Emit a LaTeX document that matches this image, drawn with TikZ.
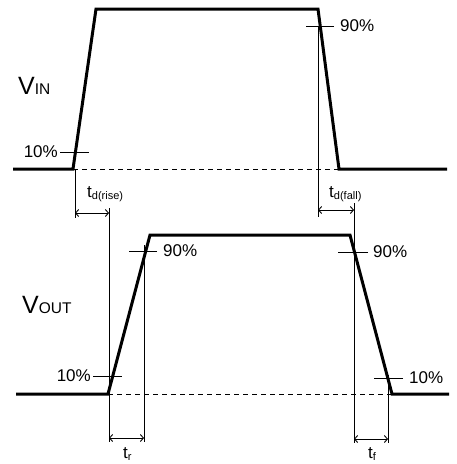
\documentclass[tikz,border=0pt]{standalone}
\usepackage{fontspec}
\setmainfont{Liberation Sans}
\usetikzlibrary{arrows.meta}

\newcommand{\subfont}{\fontsize{11}{11}\selectfont}

\begin{document}
\begin{tikzpicture}[x=1pt, y=-1pt, >={Straight Barb[length=3pt,width=7pt]},
        wave/.style = {line width=3pt, line join=miter},
        guide/.style = {line width=0.9pt},
        level/.style = {line width=1pt, dash pattern=on 5pt off 4pt},
        pct/.style = {inner sep=0pt, font=\fontsize{17}{17}\selectfont},
        tlab/.style = {inner sep=0pt, anchor=base west, font=\fontsize{17}{17}\selectfont},
        sig/.style = {inner sep=0pt, anchor=base west, font=\fontsize{25}{25}\selectfont},
        ]
        \useasboundingbox (0,0) rectangle (456,464);

        % input pulse
        \coordinate (inL) at (13,169);
        \coordinate (inR) at (73,169);
        \coordinate (inHi) at (96,9);
        \coordinate (inHf) at (318,9);
        \coordinate (inF) at (339,169);
        \coordinate (inE) at (447,169);
        \draw [level] (inR) -- (inF);
        \draw [wave] (inL) -- (inR) -- (inHi) -- (inHf) -- (inF) -- (inE);

        % output pulse
        \coordinate (outL) at (16,394);
        \coordinate (outR) at (108,394);
        \coordinate (outHi) at (150,235);
        \coordinate (outHf) at (350,235);
        \coordinate (outF) at (392,394);
        \coordinate (outE) at (449,394);
        \draw [level] (outR) -- (outF);
        \draw [wave] (outL) -- (outR) -- (outHi) -- (outHf) -- (outF) -- (outE);

        \node [sig] (vin) at (18,94) {V{\fontsize{15.5}{15.5}\selectfont IN}};
        \node [sig] (vout) at (22,313) {V{\fontsize{15.5}{15.5}\selectfont OUT}};

        % level marks
        \node [pct, anchor=east] (in10) at (58,152) {10\%};
        \draw [guide] ([xshift=2pt]in10.east) -- ++(29,0);
        \node [pct, anchor=west] (in90) at (340,26) {90\%};
        \draw [guide] ([xshift=-6pt]in90.west) -- ++(-28,0);
        \node [pct, anchor=east] (outr10) at (91,376) {10\%};
        \draw [guide] ([xshift=2pt]outr10.east) -- ++(29,0);
        \node [pct, anchor=west] (outr90) at (163,251) {90\%};
        \draw [guide] ([xshift=-6pt]outr90.west) -- ++(-28,0);
        \node [pct, anchor=west] (outf90) at (373,252) {90\%};
        \draw [guide] ([xshift=-5pt]outf90.west) -- ++(-30,0);
        \node [pct, anchor=west] (outf10) at (409,378) {10\%};
        \draw [guide] ([xshift=-6pt]outf10.west) -- ++(-29,0);

        % delay and edge times
        \coordinate (dr1) at (75,169);
        \coordinate (dr1b) at (75,218);
        \coordinate (dr2) at (109,208);
        \coordinate (dr2b) at (109,442);
        \coordinate (df1) at (318,26);
        \coordinate (df1b) at (318,217);
        \coordinate (df2) at (354,203);
        \coordinate (df2b) at (354,443);
        \coordinate (tr2) at (144,245);
        \coordinate (tr2b) at (144,442);
        \coordinate (tf2) at (388,375);
        \coordinate (tf2b) at (388,443);
        \draw [guide] (dr1) -- (dr1b);
        \draw [guide] (dr2) -- (dr2b);
        \draw [guide] (df1) -- (df1b);
        \draw [guide] (df2) -- (df2b);
        \draw [guide] (tr2) -- (tr2b);
        \draw [guide] (tf2) -- (tf2b);

        \draw [guide, <->] (dr1 |- 0,213) -- (dr2 |- 0,213);
        \draw [guide, <->] (df1 |- 0,210) -- (df2 |- 0,210);
        \draw [guide, <->] (dr2 |- 0,438) -- (tr2 |- 0,438);
        \draw [guide, <->] (df2 |- 0,439) -- (tf2 |- 0,439);

        \node [tlab] (tdr) at (87,197) {t\raisebox{-2pt}{\subfont d(rise)}};
        \node [tlab] (tdf) at (329,197) {t\raisebox{-2pt}{\subfont d(fall)}};
        \node [tlab] (ttr) at (123,458) {t\raisebox{-2pt}{\subfont r}};
        \node [tlab] (ttf) at (368,458) {t\raisebox{-2pt}{\subfont f}};
\end{tikzpicture}
\end{document}
